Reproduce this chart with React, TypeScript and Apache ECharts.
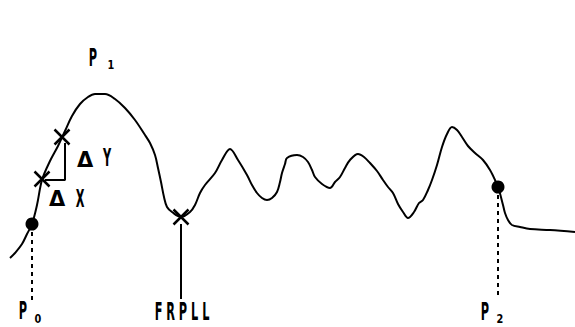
import React, { useEffect, useRef } from "react";
import * as echarts from "echarts";

const W = 575;
const H = 327;

// Waveform trace (x, y in picture units; y grows downward)
const curveX = [10, 15, 22, 27, 32, 37, 42, 50, 58, 65, 72, 80, 88, 95, 105, 115, 125, 135, 145, 150, 155, 158, 161, 164, 167, 172, 181, 190, 195, 200, 205, 215, 222, 230, 238, 247, 252, 257, 262, 267, 272, 277, 280, 282, 285, 287, 297, 303, 308, 312, 315, 322, 330, 335, 340, 345, 350, 358, 364, 370, 377, 383, 388, 393, 398, 403, 408, 414, 419, 423, 428, 432, 437, 442, 447, 452, 457, 462, 468, 475, 483, 490, 495, 499, 503, 505, 508, 512, 520, 530, 550, 575];
const curveY = [258, 253, 244, 234, 224, 205, 180, 161, 146, 131, 116, 104, 97, 94, 94, 99, 108, 120, 135, 143, 155, 168, 182, 197, 207, 212, 217, 212, 205, 193, 185, 173, 160, 149, 160, 175, 185, 193, 198, 200, 198, 192, 182, 173, 164, 158, 155, 157, 162, 170, 177, 184, 188, 182, 177, 168, 160, 154, 157, 163, 171, 180, 187, 193, 204, 212, 218, 212, 203, 200, 190, 180, 165, 147, 134, 127, 130, 137, 146, 153, 160, 170, 180, 190, 205, 213, 220, 225, 227, 229, 230, 232];

// Marked points
const dotPoints = [[32, 224], [498, 187]];
const crossPoints = [[42, 179], [62, 137], [181, 217]];

// Guide lines
const p0Guide = [[32, 232], [32, 300]];
const p2Guide = [[498, 195], [498, 298]];
const frpllGuide = [[181, 224], [181, 299]];
const triangle = [[45, 180], [65, 180], [65, 143]];

// Label anchors: [x, y, text, kind]
const labels: [number, number, string, string][] = [
  [93, 58, "P", "main"],
  [111, 64, "1", "sub"],
  [23, 311, "P", "main"],
  [38, 318, "0", "sub"],
  [485, 312, "P", "main"],
  [500, 318, "2", "sub"],
  [182, 312, "F R P L L", "main"],
  [85, 160, "Δ", "delta"],
  [107, 158, "Y", "main"],
  [57, 199, "Δ", "delta"],
  [80, 199, "X", "main"],
];

const FONT = "'DejaVu Sans', sans-serif";
const kindStyle: Record<string, { size: number; sx: number }> = {
  main: { size: 24, sx: 0.47 },
  sub: { size: 13, sx: 0.75 },
  delta: { size: 21, sx: 1.0 },
};

export default function App() {
  const ref = useRef<HTMLDivElement>(null);
  useEffect(() => {
    document.body.style.margin = "0";
    const chart = echarts.init(ref.current!, null, { renderer: "svg" });
    const curveData = curveX.map((x, i) => [x, curveY[i]]);
    const guide = (data: number[][], type: any, width = 2) => ({
      type: "line",
      data,
      symbol: "none",
      lineStyle: { color: "#000", width, type },
      silent: true,
      z: 2,
    });
    chart.setOption({
      animation: false,
      backgroundColor: "#fff",
      grid: { left: 0, right: 0, top: 0, bottom: 0 },
      xAxis: { type: "value", min: 0, max: W, show: false },
      yAxis: { type: "value", min: 0, max: H, inverse: true, show: false },
      series: [
        {
          type: "line",
          data: curveData,
          symbol: "none",
          smooth: 0.35,
          lineStyle: { color: "#000", width: 2 },
          z: 3,
        },
        guide(p0Guide, [4, 4], 2),
        guide(p2Guide, [4, 4], 2),
        guide(frpllGuide, "solid", 2),
        guide(triangle, "solid", 2),
        {
          type: "scatter",
          data: dotPoints,
          symbol: "circle",
          symbolSize: 13,
          itemStyle: { color: "#000", opacity: 1 },
          z: 5,
        },
        {
          type: "scatter",
          data: crossPoints,
          symbol: "path://M0,0L10,10M10,0L0,10",
          symbolSize: 15,
          itemStyle: { color: "none", borderColor: "#000", borderWidth: 2.5, opacity: 1 },
          z: 5,
        },
      ],
    });
    const graphics = labels.map(([x, y, text, kind]) => {
      const [px, py] = chart.convertToPixel({ gridIndex: 0 }, [x, y]) as number[];
      const k = kindStyle[kind];
      return {
        type: "text",
        x: px,
        y: py,
        scaleX: k.sx,
        z: 10,
        style: {
          text,
          fill: "#000",
          font: `bold ${k.size}px ${FONT}`,
          textAlign: "center",
          textVerticalAlign: "middle",
        },
      };
    });
    chart.setOption({ graphic: graphics });
    return () => chart.dispose();
  }, []);
  return <div ref={ref} style={{ width: W, height: H, position: "fixed", left: 0, top: 0 }} />;
}
